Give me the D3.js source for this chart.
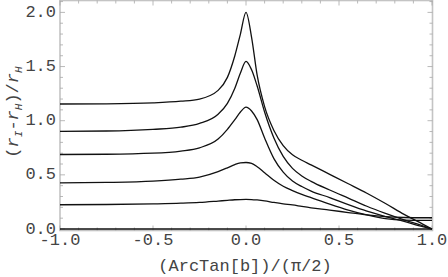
<!DOCTYPE html>
<html>
<head>
<meta charset="utf-8">
<script src="https://cdn.jsdelivr.net/npm/d3@7"></script>
<style>
html,body{margin:0;padding:0;background:#fff;}
svg{display:block;}
text{font-family:"Liberation Mono","DejaVu Sans Mono",monospace;}
</style>
</head>
<body>
<svg id="chart" width="448" height="277"></svg>
<script>
// ---- data ----
const xs = [-1, -0.75, -0.5, -0.35, -0.25, -0.15, -0.1, -0.06, -0.03, 0, 0.03, 0.06, 0.1, 0.15, 0.2, 0.25, 0.3, 0.35, 0.45, 0.55, 0.65, 0.75, 0.85, 0.95, 1.0];
const curve1 = [1.154, 1.156, 1.165, 1.18, 1.20, 1.28, 1.40, 1.60, 1.80, 2.0, 1.77, 1.42, 1.13, 0.91, 0.77, 0.685, 0.635, 0.592, 0.505, 0.418, 0.33, 0.235, 0.135, 0.045, 0];
const curve2 = [0.902, 0.905, 0.92, 0.94, 0.975, 1.06, 1.16, 1.30, 1.44, 1.547, 1.47, 1.32, 1.08, 0.84, 0.67, 0.56, 0.49, 0.44, 0.36, 0.285, 0.21, 0.145, 0.085, 0.03, 0];
const curve3 = [0.688, 0.69, 0.70, 0.72, 0.75, 0.83, 0.92, 1.01, 1.08, 1.126, 1.09, 1.01, 0.84, 0.65, 0.525, 0.443, 0.392, 0.35, 0.29, 0.225, 0.165, 0.115, 0.07, 0.022, 0];
const curve4 = [0.426, 0.43, 0.442, 0.46, 0.48, 0.53, 0.565, 0.595, 0.61, 0.614, 0.605, 0.575, 0.52, 0.45, 0.395, 0.355, 0.32, 0.29, 0.23, 0.175, 0.13, 0.095, 0.082, 0.08, 0.08];
const curve5 = [0.224, 0.226, 0.232, 0.238, 0.245, 0.258, 0.265, 0.27, 0.272, 0.273, 0.272, 0.268, 0.26, 0.245, 0.232, 0.222, 0.208, 0.195, 0.175, 0.152, 0.13, 0.114, 0.106, 0.104, 0.104];
const curve0 = xs.map(() => 0);
const series = [curve1, curve2, curve3, curve4, curve5, curve0];
const xTicks = [-1.0, -0.5, 0.0, 0.5, 1.0];
const yTicks = [0.0, 0.5, 1.0, 1.5, 2.0];
const xTickLabels = ["-1.0", "-0.5", "0.0", "0.5", "1.0"];
const yTickLabels = ["0.0", "0.5", "1.0", "1.5", "2.0"];

// ---- layout ----
const svg = d3.select("#chart");
const x = d3.scaleLinear().domain([-1, 1]).range([60, 432]);
const y = d3.scaleLinear().domain([0, 2]).range([229, 12.4]);
const frame = {left: 60, right: 432.5, top: 0.5, bottom: 230.5};

// frame
const fg = svg.append("g");
fg.append("rect")
  .attr("x", frame.left).attr("y", frame.top)
  .attr("width", frame.right - frame.left).attr("height", frame.bottom - frame.top)
  .attr("fill", "none").attr("stroke", "#c4c4c4").attr("stroke-width", 1.6);

// minor/major ticks
const xMinor = d3.range(-10, 11).map(i => i / 10);
const yMinor = d3.range(0, 22).map(i => i / 10);
const tickColor = "#a8a8a8";
xMinor.forEach(v => {
  const major = Math.abs(v * 2 - Math.round(v * 2)) < 1e-9;
  const len = major ? 5 : 3;
  fg.append("line").attr("x1", x(v)).attr("x2", x(v))
    .attr("y1", frame.bottom).attr("y2", frame.bottom - len)
    .attr("stroke", tickColor).attr("stroke-width", 0.8);
  fg.append("line").attr("x1", x(v)).attr("x2", x(v))
    .attr("y1", frame.top).attr("y2", frame.top + len)
    .attr("stroke", tickColor).attr("stroke-width", 0.8);
});
yMinor.forEach(v => {
  const major = Math.abs(v * 2 - Math.round(v * 2)) < 1e-9;
  const len = major ? 5 : 3;
  if (y(v) < frame.top) return;
  fg.append("line").attr("y1", y(v)).attr("y2", y(v))
    .attr("x1", frame.left).attr("x2", frame.left + len)
    .attr("stroke", tickColor).attr("stroke-width", 0.8);
  fg.append("line").attr("y1", y(v)).attr("y2", y(v))
    .attr("x1", frame.right).attr("x2", frame.right - len)
    .attr("stroke", tickColor).attr("stroke-width", 0.8);
});

// curves
const line = d3.line().x((d, i) => x(xs[i])).y(d => y(d)).curve(d3.curveMonotoneX);
svg.append("g").selectAll("path").data(series).join("path")
  .attr("d", d => line(d))
  .attr("fill", "none").attr("stroke", "#111").attr("stroke-width", 1.3);

// tick labels
const lab = svg.append("g").attr("fill", "#444").style("font-size", "17px");
xTicks.forEach((v, i) => {
  lab.append("text").attr("x", x(v)).attr("y", 245)
    .attr("text-anchor", "middle").text(xTickLabels[i]);
});
yTicks.forEach((v, i) => {
  lab.append("text").attr("x", 56).attr("y", y(v) + 4.5)
    .attr("text-anchor", "end").text(yTickLabels[i]);
});

// axis titles
svg.append("text").attr("x", 245).attr("y", 271)
  .attr("text-anchor", "middle").attr("fill", "#444").style("font-size", "17px")
  .text("(ArcTan[b])/(π/2)");

const yt = svg.append("text")
  .attr("transform", "translate(18,112) rotate(-90)")
  .attr("text-anchor", "middle").attr("fill", "#444").style("font-size", "17px");
yt.append("tspan").text("(");
yt.append("tspan").style("font-style", "italic").text("r");
yt.append("tspan").style("font-style", "italic").style("font-size", "11px").attr("dy", 4).text("I");
yt.append("tspan").attr("dy", -4).text("-");
yt.append("tspan").style("font-style", "italic").text("r");
yt.append("tspan").style("font-style", "italic").style("font-size", "11px").attr("dy", 4).text("H");
yt.append("tspan").attr("dy", -4).text(")/");
yt.append("tspan").style("font-style", "italic").text("r");
yt.append("tspan").style("font-style", "italic").style("font-size", "11px").attr("dy", 4).text("H");
</script>
</body>
</html>
